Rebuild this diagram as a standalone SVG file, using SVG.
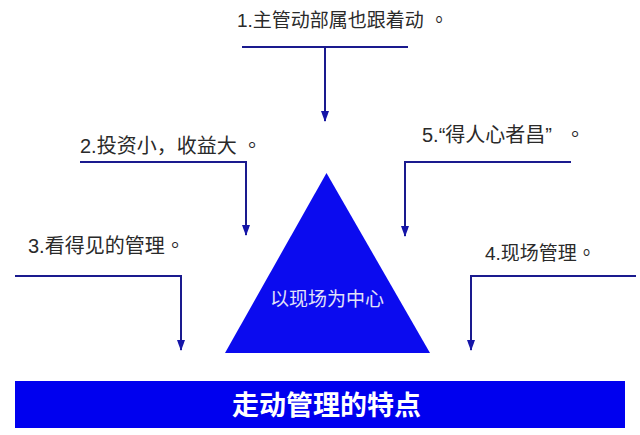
<svg xmlns="http://www.w3.org/2000/svg" width="640" height="435" viewBox="0 0 640 435">
  <style>
    .lbl { font-family: "Liberation Sans", "Noto Sans CJK SC", sans-serif; font-size: 20px; fill: #2a2a2a; }
    .p { font-family: "Noto Sans CJK TC", sans-serif; }
    .conn { fill: none; stroke: #1a1a8e; stroke-width: 2; marker-end: url(#arr); }
  </style>
  <defs>
    <marker id="arr" markerUnits="userSpaceOnUse" markerWidth="8" markerHeight="11" refX="4" refY="10" orient="0" viewBox="0 0 8 11">
      <path d="M0,0 L8,0 L4,11 Z" fill="#1515a8"/>
    </marker>
  </defs>
  <rect width="640" height="435" fill="#ffffff"/>

  <g id="connectors">
    <path class="conn" d="M242 47 H408 M325 47 V121"/>
    <path class="conn" d="M80 162 H246 V235"/>
    <path class="conn" d="M571 162 H405 V236"/>
    <path class="conn" d="M15 276 H181 V350"/>
    <path class="conn" d="M636 276 H471 V350"/>
  </g>

  <g id="label1">
    <text class="lbl" x="237" y="27" style="font-size:19px">1.主管动部属也跟着动<tspan class="p" x="429.5">。</tspan></text>
  </g>
  <g id="label2">
    <text class="lbl" x="80" y="153">2.投资小，收益大<tspan class="p" x="242">。</tspan></text>
  </g>
  <g id="label5">
    <text class="lbl" x="422" y="142">5.“得人心者昌”<tspan class="p" x="565">。</tspan></text>
  </g>
  <g id="label3">
    <text class="lbl" x="28" y="253">3.看得见的管理<tspan class="p" x="165">。</tspan></text>
  </g>
  <g id="label4">
    <text class="lbl" x="485" y="260" style="font-size:19px">4.现场管理<tspan class="p" x="577">。</tspan></text>
  </g>

  <g id="center">
    <polygon points="326.5,173 225,353 430,353" fill="#0b0bef"/>
    <text x="327" y="306" text-anchor="middle" style="font-family:'Liberation Sans','Noto Sans CJK SC',sans-serif;font-size:19px;fill:#e2e2f8">以现场为中心</text>
  </g>

  <g id="title">
    <rect x="15" y="381" width="610" height="47" fill="#0000ef"/>
    <text x="326.5" y="414.5" text-anchor="middle" style="font-family:'Liberation Sans','Noto Sans CJK SC',sans-serif;font-size:27px;font-weight:bold;fill:#ffffff">走动管理的特点</text>
  </g>
</svg>
